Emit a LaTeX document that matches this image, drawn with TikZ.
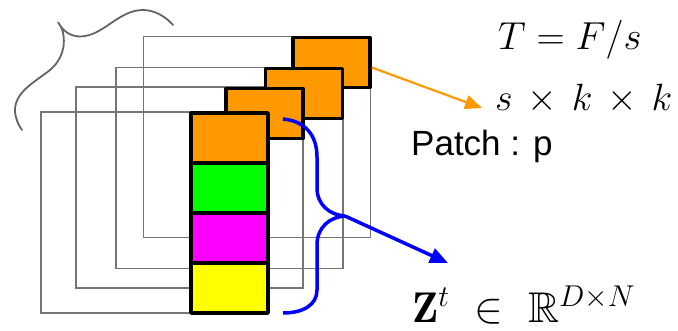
\RequirePackage{fix-cm}
\documentclass[tikz,border=0pt]{standalone}
\usepackage{amssymb}
\usepackage{fontspec}
\newfontfamily\arialfont{Liberation Sans}
% scalable blackboard bold at any size
\DeclareFontFamily{U}{msb}{}
\DeclareFontShape{U}{msb}{m}{n}{<-6>msbm5<6-8>msbm7<8->msbm10}{}
\usetikzlibrary{arrows.meta}

\definecolor{framegray}{RGB}{118,118,118}
\definecolor{bracegray}{RGB}{100,100,100}
\definecolor{patchorange}{RGB}{255,153,0}
\definecolor{cellgreen}{RGB}{0,255,0}
\definecolor{cellmagenta}{RGB}{255,0,255}
\definecolor{cellyellow}{RGB}{255,255,0}
\definecolor{linkblue}{RGB}{0,0,255}

\tikzset{
  framebox/.style={draw=framegray, line width=1.8pt, minimum width=227pt,
    minimum height=201pt, inner sep=0pt},
  cellbox/.style={draw=black, line width=3.6pt, minimum width=77pt,
    minimum height=50pt, inner sep=0pt, line join=round},
  patchbox/.style={cellbox, fill=patchorange},
  bluebrace/.style={draw=linkblue, line width=3.5pt},
  bluearrow/.style={draw=linkblue, line width=3.5pt,
    -{Triangle[length=18pt,width=15pt]}},
  orangearrow/.style={draw=patchorange, line width=2.2pt,
    -{Triangle[length=17pt,width=14pt]}},
  label/.style={inner sep=0pt, anchor=base west},
}

\begin{document}
\begin{tikzpicture}[x=1pt, y=-1pt]
\useasboundingbox (0,0) rectangle (678,330);

% stacked frames, back to front
\node[framebox] (f4) at (257,137) {};
\node[framebox] (f3) at (229.5,168) {};
\node[framebox] (f2) at (189.5,187.5) {};
\node[framebox] (f1) at (154.5,212.5) {};

% brace over the frame stack
\draw[bracegray, line width=1.8pt, line cap=round]
  (173,25) .. controls (166,17) and (155,10) .. (143,10)
  .. controls (120,10) and (105,33) .. (85,36)
  .. controls (75,38) and (64,34) .. (58,22)
  .. controls (66,32) and (68,55) .. (50,70)
  .. controls (35,82) and (14,92) .. (15,112)
  .. controls (16,120) and (19,126) .. (22,130);

% patches, back to front
\node[patchbox] (p4) at (331.5,62.5) {};
\node[patchbox] (p3) at (304,93.5) {};
\node[patchbox] (p2) at (264.5,113.5) {};

% token column
\node[patchbox] (c1) at (229.5,138) {};
\node[cellbox, fill=cellgreen] (c2) at (229.5,188) {};
\node[cellbox, fill=cellmagenta] (c3) at (229.5,238) {};
\node[cellbox, fill=cellyellow] (c4) at (229.5,288) {};

% blue brace gathering the column
\coordinate (cusp) at (345,216);
\draw[bluebrace]
  (283,119) .. controls (305,121) and (317,135) .. (317,157)
  -- (317,188) .. controls (317,205) and (330,215) .. (cusp);
\draw[bluebrace]
  (cusp) .. controls (330,217) and (317,227) .. (317,245)
  -- (317,290) .. controls (317,305) and (303,313) .. (283,313);

% labels
\node[label] (tfs) at (498,49) {\fontsize{39}{44}\selectfont $T = F/s$};
\node[label] (sxk) at (495,110) {\fontsize{38}{44}\selectfont $s\,\times\,k\,\times\,k$};
\node[label] (patch) at (411,155) {\fontsize{35}{40}\selectfont\arialfont Patch : p};
\node[label] (zt) at (412,322) {\fontsize{43}{48}\selectfont $\mathbf{Z}^t\ \in\ \mathbb{R}^{D\times N}$};

% connectors
\coordinate (otip) at (482,108);
\draw[orangearrow] ([yshift=-5pt]p4.east) -- (otip);
\coordinate (btip) at (448,263);
\draw[bluearrow] (cusp) -- (btip);
\end{tikzpicture}
\end{document}
